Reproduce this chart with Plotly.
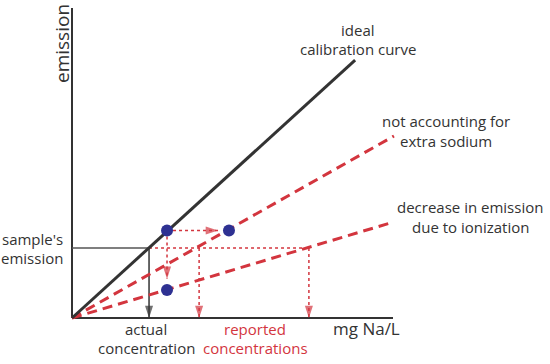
import plotly.graph_objects as go

# ---- data (concentration units on x, emission units on y) ----
ideal_x = [0, 8.82]
ideal_y = [0, 8.32]
noextra_x = [0, 10.03]
noextra_y = [0, 5.87]
ioniz_x = [0, 10.03]
ioniz_y = [0, 3.10]

sample_emission = 2.26
actual_conc = 2.40
reported_conc = [3.96, 7.38]

std_point = (2.96, 2.82)          # point on ideal curve
shifted_points_x = [4.89, 2.96]   # points on red curves
shifted_points_y = [2.82, 0.90]
arrow_tip_h = 4.55                # horizontal arrow tip (x)
arrow_tip_v = 1.26                # vertical arrow tip (y)

axis_len_x = 10.0
axis_len_y = 10.0

# ---- styling ----
W, H = 550, 364
X0, Y0 = 72.0, 318.0
SX, SY = 32.1, 31.0
xr = [(0 - X0) / SX, (W - X0) / SX]
yr = [(Y0 - H) / SY, (Y0 - 0) / SY]

DARK = '#333333'
RED = '#d3353e'
BLUE = '#2e3192'
FONT = 'Open Sans'

fig = go.Figure()

def line(x, y, color, width, dash='solid'):
    fig.add_trace(go.Scatter(x=x, y=y, mode='lines',
                             line=dict(color=color, width=width, dash=dash),
                             hoverinfo='skip', showlegend=False))

def arrow(x, y, color, size=13):
    fig.add_trace(go.Scatter(x=x, y=y, mode='markers',
                             marker=dict(symbol='arrow', angleref='previous',
                                         size=[0, size], color=color,
                                         line=dict(width=0)),
                             hoverinfo='skip', showlegend=False))

# axes
line([0, axis_len_x], [0, 0], DARK, 2)
line([0, 0], [0, axis_len_y], DARK, 2)

# sample's emission horizontal
line([0, actual_conc], [sample_emission, sample_emission], '#555555', 1.5)
# red dotted horizontal to reported concentrations
line([actual_conc, reported_conc[1]], [sample_emission, sample_emission], RED, 1.5, '3px,3px')
# red dotted verticals
for rc in reported_conc:
    line([rc, rc], [sample_emission, 0], RED, 1.5, '3px,3px')
    arrow([rc, rc], [sample_emission, 0], RED)
# black vertical arrow
line([actual_conc, actual_conc], [sample_emission, 0], DARK, 1.5)
arrow([actual_conc, actual_conc], [sample_emission, 0], DARK)

# arrows from standard point
line([std_point[0], arrow_tip_h], [std_point[1], std_point[1]], RED, 1.5, '3px,3px')
arrow([std_point[0], arrow_tip_h], [std_point[1], std_point[1]], RED)
line([std_point[0], std_point[0]], [std_point[1], arrow_tip_v], RED, 1.5, '3px,3px')
arrow([std_point[0], std_point[0]], [std_point[1], arrow_tip_v], RED)

# curves
line(noextra_x, noextra_y, RED, 3, '10px,6px')
line(ioniz_x, ioniz_y, RED, 3, '10px,6px')
line(ideal_x, ideal_y, DARK, 3)

# points
fig.add_trace(go.Scatter(x=[std_point[0]] + shifted_points_x,
                         y=[std_point[1]] + shifted_points_y,
                         mode='markers', marker=dict(color=BLUE, size=12),
                         hoverinfo='skip', showlegend=False))

def label(text, px, py, color=DARK, size=15, xanchor='center', angle=0):
    fig.add_annotation(text=text, x=px / W, y=1 - py / H, xref='paper', yref='paper',
                       xanchor=xanchor, yanchor='middle', showarrow=False,
                       textangle=angle, font=dict(family=FONT, size=size, color=color))

label('ideal', 358, 30)
label('calibration curve', 358, 49)
label('not accounting for', 446, 121)
label('extra sodium', 446, 141)
label('decrease in emission', 470, 207)
label('due to ionization', 470, 227)
label("sample's", 65, 239, xanchor='right')
label('emission', 65, 258, xanchor='right')
label('actual', 146, 329)
label('concentration', 146, 348)
label('reported', 255, 329, color=RED)
label('concentrations', 255, 348, color=RED)
label('mg Na/L', 366, 328, size=17)
label('emission', 62, 44, size=19, angle=-90)

fig.update_layout(
    width=W, height=H, margin=dict(l=0, r=0, t=0, b=0),
    plot_bgcolor='white', paper_bgcolor='white',
    xaxis=dict(range=xr, visible=False, fixedrange=True),
    yaxis=dict(range=yr, visible=False, fixedrange=True),
    showlegend=False,
)

fig.write_html('out.html', config={'displayModeBar': False},
               post_script="document.body.style.margin='0';")
